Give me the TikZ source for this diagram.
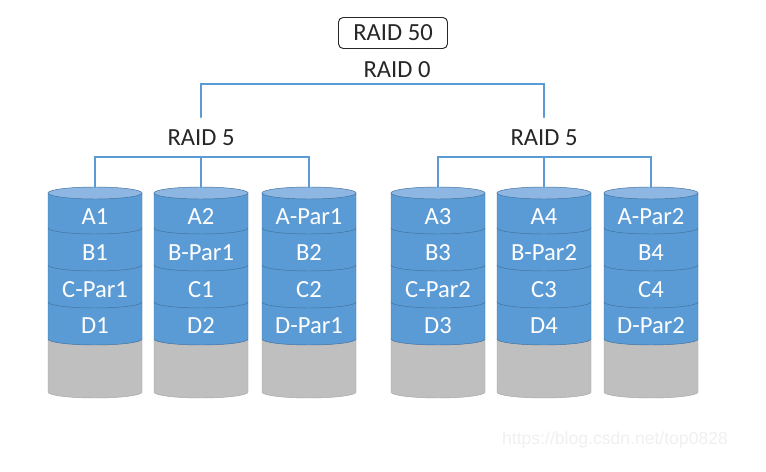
\documentclass[tikz,border=0pt]{standalone}
\usepackage{fontspec}
\setmainfont{Carlito}
\newfontfamily\markfont{Liberation Sans}
\usepackage{tikz}
\usetikzlibrary{positioning}
\definecolor{ink}{HTML}{262626}
\definecolor{diskblue}{HTML}{5B9BD5}
\definecolor{diskedge}{HTML}{41719C}
\definecolor{disktop}{HTML}{8DB6E2}
\definecolor{diskgray}{HTML}{BFBFBF}
\definecolor{diskgrayedge}{HTML}{A5A5A5}
\definecolor{linkblue}{HTML}{5B9BD5}

\tikzset{
  link/.style={linkblue,line width=2.2pt},
  disktext/.style={text=white,font=\fontsize{21}{24}\selectfont},
  grouptext/.style={text=ink,font=\fontsize{21}{24}\selectfont},
}

% disk: name, centre x, four stripe labels
\newcommand{\raiddisk}[6]{%
  \filldraw[fill=diskgray,draw=diskgrayedge] (#2-47,-339) -- (#2-47,-392)
    arc[start angle=180,end angle=360,x radius=47,y radius=6] -- (#2+47,-339) -- cycle;
  \filldraw[fill=diskblue,draw=diskedge] (#2-47,-193) -- (#2-47,-339)
    arc[start angle=180,end angle=360,x radius=47,y radius=6] -- (#2+47,-193) -- cycle;
  \foreach \s in {-228,-265,-302}
    \draw[diskedge] (#2-47,\s) arc[start angle=180,end angle=360,x radius=47,y radius=6];
  \filldraw[fill=disktop,draw=diskedge] (#2,-193) ellipse[x radius=47,y radius=6];
  \node[disktext] (#1a) at (#2,-217) {#3};
  \node[disktext] (#1b) at (#2,-253) {#4};
  \node[disktext] (#1c) at (#2,-290) {#5};
  \node[disktext] (#1d) at (#2,-326) {#6};
  \coordinate (#1) at (#2,-187);
}

\begin{document}
\begin{tikzpicture}[x=0.3mm,y=0.3mm,line cap=round]
  \useasboundingbox (0,0) rectangle (766,-472);
  \fill[white] (0,0) rectangle (766,-472);

  \raiddisk{d1}{95}{A1}{B1}{C-Par1}{D1}
  \raiddisk{d2}{201}{A2}{B-Par1}{C1}{D2}
  \raiddisk{d3}{309}{A-Par1}{B2}{C2}{D-Par1}
  \raiddisk{d4}{438}{A3}{B3}{C-Par2}{D3}
  \raiddisk{d5}{544}{A4}{B-Par2}{C3}{D4}
  \raiddisk{d6}{651}{A-Par2}{B4}{C4}{D-Par2}

  % RAID 5 groups
  \coordinate (hub1) at (201,-157);
  \coordinate (hub2) at (544,-157);
  \draw[link] (d1) |- (hub1) -| (d3);
  \draw[link] (d2) -- (hub1);
  \draw[link] (d4) |- (hub2) -| (d6);
  \draw[link] (d5) -- (hub2);
  \node[grouptext] (r5a) at (201,-138) {RAID 5};
  \node[grouptext] (r5b) at (544,-138) {RAID 5};

  % RAID 0 on top
  \coordinate (g1) at (201,-117);
  \coordinate (g2) at (544,-117);
  \coordinate (bar) at (372,-84);
  \draw[link] (g1) |- (bar) -| (g2);
  \node[grouptext] (r0) at (397,-70) {RAID 0};
  \node[grouptext,draw=ink,rounded corners=4pt,line width=0.8pt,
        minimum width=109*0.3mm,minimum height=31*0.3mm] (r50) at (393,-33) {RAID 50};

  \node[text=black!6,font=\markfont\fontsize{15}{18}\selectfont] (mark) at (615,-440)
    {https://blog.csdn.net/top0828};
\end{tikzpicture}
\end{document}
